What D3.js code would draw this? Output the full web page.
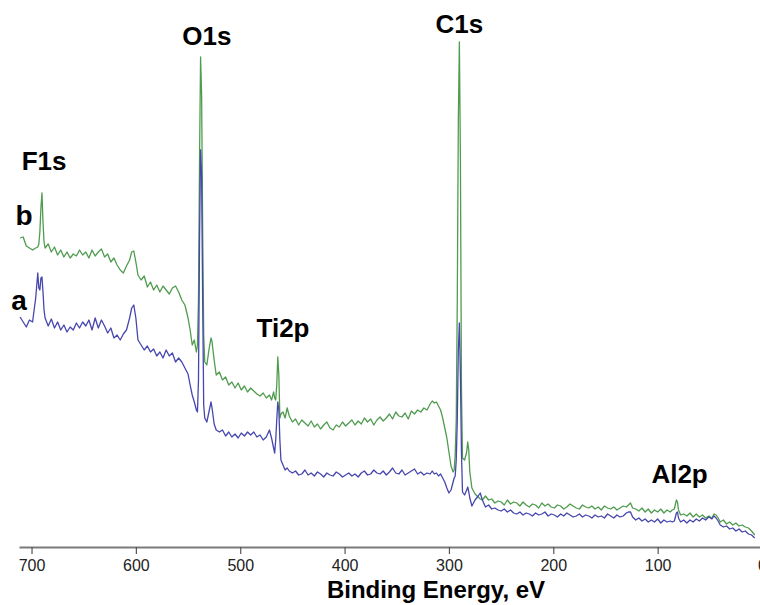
<!DOCTYPE html>
<html>
<head>
<meta charset="utf-8">
<script src="https://cdn.jsdelivr.net/npm/d3@7"></script>
<style>
  body { margin: 0; background: #fff; }
  svg { display: block; font-family: "Liberation Sans", Arial, sans-serif; }
</style>
</head>
<body>
<svg></svg>
<script>
// binding energies (eV), shared by both spectra
const energies = [
  711, 708, 705, 702, 699, 696,
  694, 693, 692, 691, 690, 689, 688, 687,
  684, 681, 678, 675, 672, 669, 666, 663, 660, 657, 654, 651, 648, 645, 642, 639, 636, 633, 630, 627, 624, 621, 618, 615, 612, 609, 606,
  604, 602, 600,
  598,
  595, 592, 589, 586, 583, 580, 577, 574, 571, 568, 565, 562, 559, 556, 553, 550,
  548, 546, 544, 542,
  541, 540, 539, 538, 537, 536, 535, 534,
  532, 530, 528,
  527, 525, 523,
  520, 517, 514, 511, 508, 505, 502, 499, 496, 493, 490, 487, 484, 481, 478, 475, 472,
  470, 468,
  467, 466, 465, 464, 463, 462, 461,
  459, 457, 455, 453,
  450, 447, 444, 441, 438, 435, 432, 429, 426, 423, 420, 417, 414, 411, 408, 405, 402, 399, 396, 393, 390, 387, 384, 381, 378, 375, 372, 369, 366, 363, 360, 357, 354, 351, 348, 345, 342, 339, 336, 333, 330, 327, 324, 321, 318,
  316, 314, 312, 310, 308, 306, 304, 302, 300, 298, 296,
  295, 294, 293, 292, 291, 290, 289, 288, 287,
  285, 283,
  282, 281, 280,
  278,
  275, 272,
  270, 268,
  265, 262, 259, 256, 253, 250, 247, 244, 241, 238, 235, 232, 229, 226, 223, 220, 217, 214, 211, 208, 205, 202, 199, 196, 193, 190, 187, 184, 181, 178, 175, 172, 169, 166, 163, 160, 157, 154, 151, 148, 145, 142, 139, 136, 133, 130,
  128, 126, 124,
  121, 118, 115, 112, 109, 106, 103, 100, 97, 94, 91, 88,
  86, 84, 82,
  81, 80,
  78,
  75, 72, 69, 66, 63, 60, 57, 54, 51, 48,
  46, 44, 42, 40,
  37, 34, 31, 28, 25, 22, 19, 16, 13, 10, 7
];

// spectrum b (intensity, a.u.)
const spectrumB = [
  309, 310, 301, 299, 297, 299,
  300, 303, 315, 339, 354, 325, 305, 299,
  303, 295, 300, 292, 297, 290, 295, 289, 293, 291, 297, 292, 295, 289, 297, 291, 295, 298, 290, 293, 285, 289, 282, 277, 274, 281, 287,
  295, 296, 285,
  272,
  267, 271, 260, 265, 257, 262, 255, 261, 257, 253, 259, 261, 255, 247, 242, 229,
  217, 202, 207, 195,
  202, 247, 387, 490, 452, 317, 212, 185,
  182, 197, 209,
  205, 187, 172,
  175, 167, 170, 162, 165, 159, 164, 157, 161, 155, 159, 156, 153, 151, 154, 149, 152,
  147, 155,
  149, 147, 162, 190, 172, 129, 133,
  135, 129, 139, 131,
  125, 128, 122, 127, 124, 121, 126, 120, 123, 118, 122, 125, 119, 117, 122, 120, 125, 121, 124, 127, 122, 126, 123, 129, 125, 128, 122, 127, 130, 126, 129, 133, 128, 135, 131, 130, 134, 128, 136, 133, 137, 135, 139, 137, 143,
  146, 144, 145, 141, 137, 129, 119, 109, 95, 81, 75,
  77, 92, 127, 247, 427, 505, 387, 157, 89,
  87, 95,
  105, 97, 75,
  59,
  53, 50,
  48, 47,
  51, 47, 48, 44, 46, 45, 42, 47, 43, 45, 44, 41, 45, 42, 40, 43, 42, 39, 44, 41, 43, 40, 39, 42, 41, 38, 40, 43, 41, 39, 38, 42, 40, 39, 41, 38, 40, 37, 41, 39, 38, 40, 37, 39, 41, 40,
  42, 44, 39,
  38, 36, 39, 35, 38, 34, 37, 35, 38, 34, 37, 35,
  37, 38, 47,
  45, 37,
  32,
  33, 31, 34, 30, 33, 30, 32, 29, 31, 29,
  33, 32, 29, 25,
  27, 23, 25, 22, 24, 21, 22, 20, 19, 16, 12
];

// spectrum a (intensity, a.u.)
const spectrumA = [
  230, 225, 220, 227, 225, 249,
  274, 259, 257, 269, 270, 255, 237, 229,
  221, 228, 219, 225, 217, 222, 215, 220, 217, 224, 219, 225, 221, 227, 217, 229, 219, 227, 221, 214, 219, 209, 212, 207, 213, 217, 229,
  239, 242, 229,
  207,
  202, 197, 201, 195, 198, 191, 195, 189, 197, 191, 194, 185, 189, 185, 179, 173,
  162, 152, 145, 137,
  135, 167, 307, 397, 372, 247, 142, 129,
  125, 135, 145,
  139, 123, 117,
  115, 117, 111, 115, 110, 113, 109, 114, 111, 115, 112, 115, 110, 112, 107, 110, 117,
  109, 99,
  94, 107, 127, 145, 137, 107, 87,
  82, 77, 79, 76,
  74, 76, 72, 73, 77, 72, 74, 71, 75, 73, 70, 74, 72, 71, 75, 73, 70, 72, 74, 71, 73, 70, 74, 76, 72, 73, 77, 74, 73, 76, 72, 75, 79, 74, 73, 77, 72, 74, 76, 78, 73, 75, 72, 74, 73,
  76, 73, 74, 71, 73, 69, 65, 59, 54, 57, 65,
  69, 71, 87, 127, 197, 224, 172, 95, 55,
  52, 57,
  60, 55, 49,
  41,
  47, 51,
  54, 47,
  40, 42, 38, 39, 37, 36, 38, 35, 37, 34, 33, 35, 32, 34, 33, 31, 34, 32, 33, 35, 31, 33, 32, 30, 33, 31, 34, 32, 30, 31, 33, 30, 32, 31, 29, 32, 30, 31, 29, 33, 31, 29, 32, 30, 31, 34,
  35, 35, 30,
  27, 29, 26, 28, 25, 27, 25, 28, 24, 27, 25, 26,
  25, 26, 34,
  35, 29,
  25,
  27, 24, 27, 25, 28, 26, 29, 27, 30, 28,
  31, 29, 26, 22,
  20, 21, 18, 19, 16, 18, 15, 16, 13, 12, 9
];

const tickValues = [700, 600, 500, 400, 300, 200, 100, 0];

const peakNames = ["F1s", "O1s", "Ti2p", "C1s", "Al2p"];
const peakEnergies = [688, 532, 459, 290, 79];

const width = 760;
const height = 605;

const svg = d3.select("svg").attr("width", width).attr("height", height);

const x = d3.scaleLinear().domain([712, 0]).range([19, 762]);
const y = d3.scaleLinear().domain([0, 520]).range([547, 27]);

// axis
const axis = svg.append("g")
  .attr("transform", "translate(0,547)")
  .call(d3.axisBottom(x).tickValues(tickValues).tickSize(7).tickSizeOuter(0).tickPadding(6));

axis.select(".domain").attr("stroke", "#7a7a7a").attr("stroke-width", 2);
axis.selectAll(".tick line").attr("stroke", "#555").attr("stroke-width", 1.2);
axis.selectAll(".tick text")
  .attr("font-size", 16)
  .attr("fill", "#222")
  .attr("font-family", "'Liberation Sans', Arial, sans-serif");

svg.append("text")
  .attr("x", 436)
  .attr("y", 598)
  .attr("text-anchor", "middle")
  .attr("font-size", 24)
  .attr("font-weight", "bold")
  .text("Binding Energy, eV");

// spectra
const line = d3.line()
  .x((d, i) => x(energies[i]))
  .y(d => y(d));

svg.append("path")
  .datum(spectrumB)
  .attr("d", line)
  .attr("fill", "none")
  .attr("stroke", "#4f9c4f")
  .attr("stroke-width", 1.3)
  .attr("stroke-linejoin", "round");

svg.append("path")
  .datum(spectrumA)
  .attr("d", line)
  .attr("fill", "none")
  .attr("stroke", "#4646ae")
  .attr("stroke-width", 1.3)
  .attr("stroke-linejoin", "round");

// peak labels sit above the highest point of spectrum b near each peak
const labelGap = { F1s: 23, O1s: 12, Ti2p: 20, C1s: 9, Al2p: 17 };

peakNames.forEach(function(name, k) {
  const e = peakEnergies[k];
  let top = 0;
  energies.forEach(function(en, i) {
    if (Math.abs(en - e) <= 7) top = Math.max(top, spectrumB[i]);
  });
  svg.append("text")
    .attr("x", x(e))
    .attr("y", y(top) - labelGap[name])
    .attr("text-anchor", "middle")
    .attr("font-size", 26)
    .attr("font-weight", "bold")
    .text(name);
});

// series labels at the start of each curve
svg.append("text")
  .attr("x", x(energies[0]) + 4)
  .attr("y", y(spectrumB[0]) - 13)
  .attr("text-anchor", "middle")
  .attr("font-size", 28)
  .attr("font-weight", "bold")
  .text("b");

svg.append("text")
  .attr("x", x(energies[0]) - 1)
  .attr("y", y(spectrumA[0]) - 7)
  .attr("text-anchor", "middle")
  .attr("font-size", 28)
  .attr("font-weight", "bold")
  .text("a");
</script>
</body>
</html>
